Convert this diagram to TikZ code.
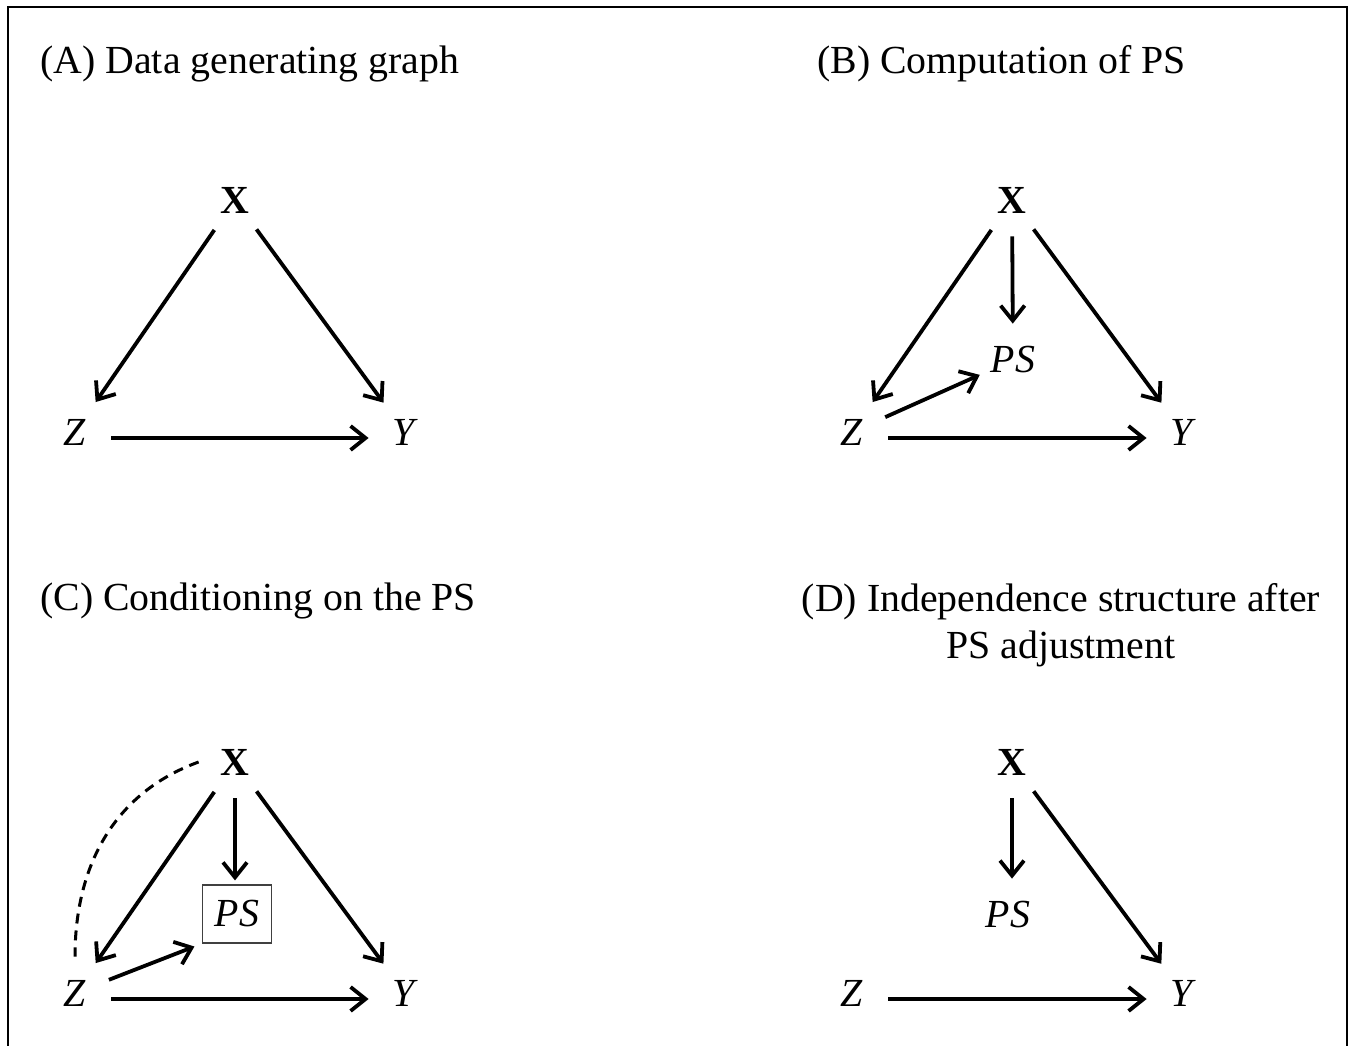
\documentclass[tikz,border=0pt]{standalone}
\usepackage{fontspec}
\setmainfont{Liberation Serif}
\usetikzlibrary{arrows.meta}

\begin{document}
\begin{tikzpicture}[x=0.5pt,y=-0.5pt,
  title/.style={font=\fontsize{19.9}{23.5}\selectfont, anchor=base west, inner sep=0pt},
  var/.style={circle, minimum size=36pt, inner sep=0pt, font=\fontsize{19.9}{23.5}\selectfont},
  psbox/.style={draw, black!75, line width=0.6pt, minimum width=34.5pt, minimum height=29pt, inner sep=0pt, text=black, font=\fontsize{19.9}{23.5}\selectfont},
  arr/.style={-{Straight Barb[length=7.5pt,width=12pt]}, line width=1.9pt},
  latent/.style={line width=1.5pt, dash pattern=on 5pt off 3.5pt}]
\useasboundingbox (0,0) rectangle (1355,1045);
\draw[line width=1.3pt] (8,7) rectangle (1347,1070);

% panel titles
\node[title] (ta) at (40,73) {(A) Data generating graph};
\node[title] (tb) at (817,73) {(B) Computation of PS};
\node[title] (tc) at (40,610) {(C) Conditioning on the PS};
\node[title, anchor=north, align=center] (td) at (1061,583) {(D) Independence structure after\\PS adjustment};

% (A)
\node[var] (xa) at (235,200) {\textbf{X}};
\node[var] (za) at (75,432) {\textit{Z}};
\node[var] (ya) at (405,432) {\textit{Y}};
\draw[arr] (xa) -- (za);
\draw[arr] (xa) -- (ya);
\draw[arr] ([yshift=-3pt]za.east) -- ([yshift=-3pt]ya.west);

% (B)
\node[var] (xb) at (1012,200) {\textbf{X}};
\node[var] (pb) at (1013,360) {\textit{PS}};
\node[var] (zb) at (852,432) {\textit{Z}};
\node[var] (yb) at (1183,432) {\textit{Y}};
\draw[arr] (xb) -- (zb);
\draw[arr] (xb) -- (yb);
\draw[arr] (xb) -- (pb);
\draw[arr] (zb) -- (pb);
\draw[arr] ([yshift=-3pt]zb.east) -- ([yshift=-3pt]yb.west);

% (C)
\node[var] (xc) at (235,762) {\textbf{X}};
\node[psbox] (pc) at (237,914) {\textit{PS}};
\node[var] (zc) at (75,993) {\textit{Z}};
\node[var] (yc) at (405,993) {\textit{Y}};
\draw[arr] (xc) -- (zc);
\draw[arr] (xc) -- (yc);
\draw[arr, shorten >=2pt] (xc) -- (xc |- pc.north);
\draw[arr, shorten >=4pt] (zc) -- (pc.south west);
\draw[arr] ([yshift=-3pt]zc.east) -- ([yshift=-3pt]yc.west);
\draw[latent] (xc.west) to[out=200, in=90] (zc.north);

% (D)
\node[var] (xd) at (1012,762) {\textbf{X}};
\node[var] (pd) at (1008,915) {\textit{PS}};
\node[var] (zd) at (852,993) {\textit{Z}};
\node[var] (yd) at (1183,993) {\textit{Y}};
\draw[arr] (xd) -- (yd);
\draw[arr] (xd) -- (xd |- pd.north);
\draw[arr] ([yshift=-3pt]zd.east) -- ([yshift=-3pt]yd.west);
\end{tikzpicture}
\end{document}
